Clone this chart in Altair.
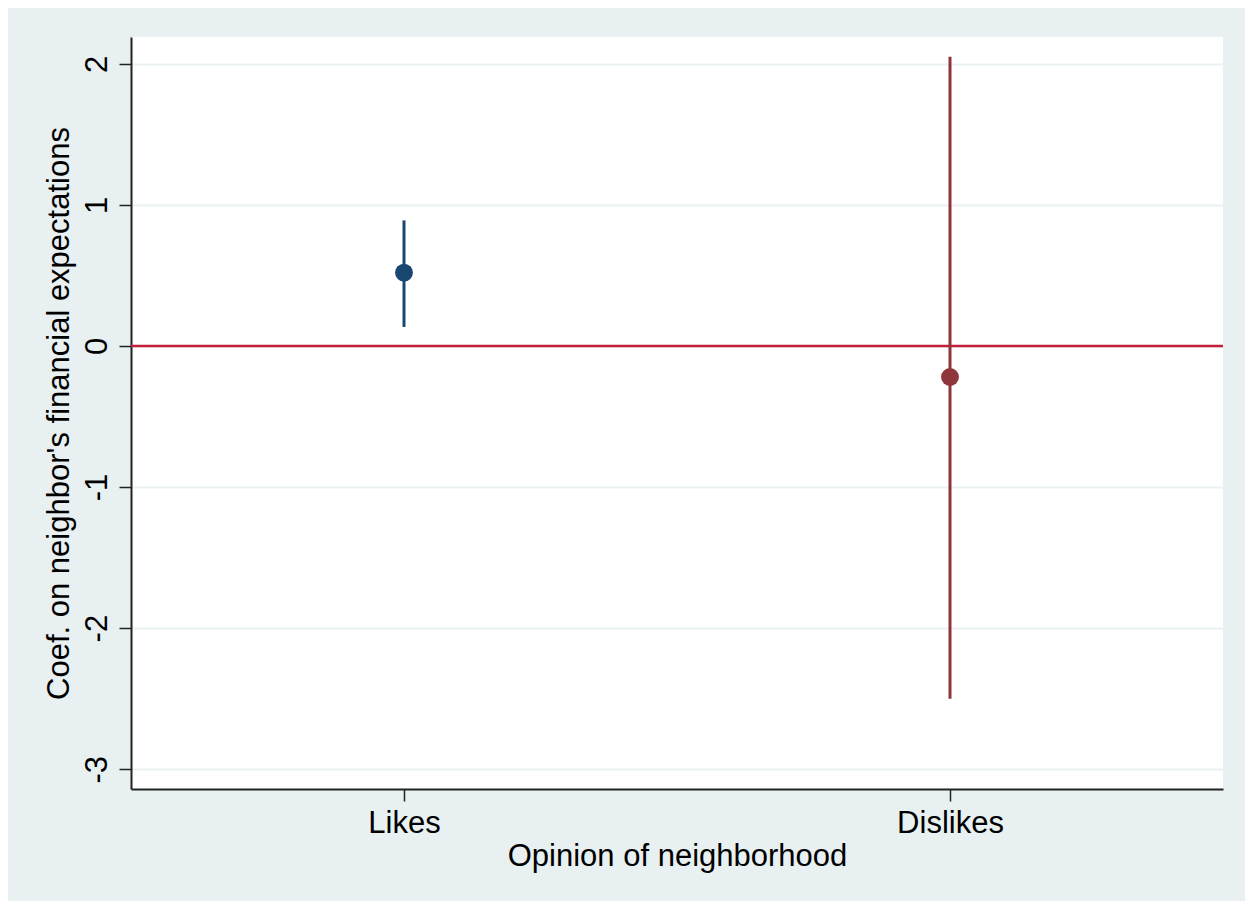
import altair as alt
import pandas as pd

categories = ["Likes", "Dislikes"]
coef = [0.52, -0.22]
ci_low = [0.135, -2.50]
ci_high = [0.89, 2.05]
colors = ["#1A476F", "#90353B"]
y_ticks = [-3, -2, -1, 0, 1, 2]

df = pd.DataFrame({"cat": categories, "coef": coef, "lo": ci_low, "hi": ci_high})
zero_df = pd.DataFrame({"y": [0]})

FONT = "Liberation Sans"
W, H = 1092, 752

xscale = alt.Scale(type="point", padding=0.5, domain=categories)
yscale = alt.Scale(domain=[-3.14, 2.19], nice=False, zero=False)
cscale = alt.Scale(domain=categories, range=colors)

x_enc = alt.X(
    "cat:N", scale=xscale, sort=categories,
    axis=alt.Axis(
        title="Opinion of neighborhood", labelAngle=0, grid=False,
        tickSize=12, labelPadding=7, labelFontSize=31, titleFontSize=31,
        labelBaseline="top",
        titleX=W / 2, titleY=76, titleBaseline="alphabetic", titleAlign="center",
    ),
)
y_enc_axis = alt.Axis(
    title="Coef. on neighbor's financial expectations", values=y_ticks,
    labelExpr="'' + datum.value",
    grid=True, gridColor="#EAF2F3", gridWidth=2,
    tickSize=12, labelPadding=13, labelAngle=270, labelAlign="center",
    labelBaseline="alphabetic", labelFontSize=31, titleFontSize=31,
    titleX=-63, titleY=H / 2, titleBaseline="alphabetic", titleAlign="center",
    titleAngle=270,
)

zero = alt.Chart(zero_df).mark_rule(color="#C41E3A", strokeWidth=2.5).encode(
    y=alt.Y("y:Q", scale=yscale, axis=y_enc_axis)
)

bars = alt.Chart(df).mark_rule(strokeWidth=3).encode(
    x=x_enc,
    y=alt.Y("lo:Q", scale=yscale),
    y2="hi:Q",
    color=alt.Color("cat:N", scale=cscale, legend=None),
)

pts = alt.Chart(df).mark_circle(size=320, opacity=1).encode(
    x=alt.X("cat:N", scale=xscale, sort=categories),
    y=alt.Y("coef:Q", scale=yscale),
    color=alt.Color("cat:N", scale=cscale, legend=None),
)

chart = (
    alt.layer(zero, bars, pts)
    .properties(
        width=W, height=H,
        autosize=alt.AutoSizeParams(type="none"),
        padding={"left": 123, "top": 29, "right": 22, "bottom": 112},
        background="#E8F0F2",
    )
    .configure_view(fill="white", stroke=None)
    .configure_axis(
        labelFont=FONT, titleFont=FONT, labelColor="black", titleColor="black",
        titleFontWeight="normal", domainColor="#222222", domainWidth=2,
        tickColor="#222222", tickWidth=1.5,
    )
)

chart.save("out.html", embed_options={"renderer": "svg", "actions": False})
